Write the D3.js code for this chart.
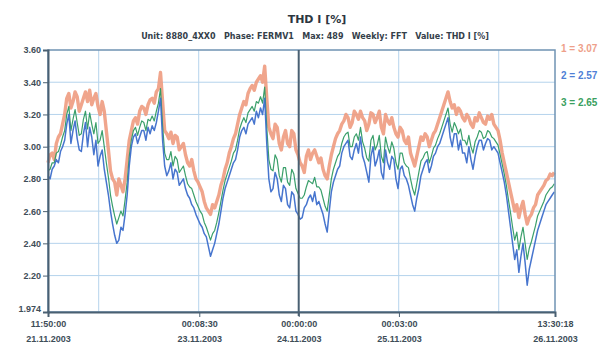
<!DOCTYPE html>
<html>
<head>
<meta charset="utf-8">
<script src="https://cdn.jsdelivr.net/npm/d3@7"></script>
<style>
  html, body { margin: 0; padding: 0; background: #ffffff; }
  svg { display: block; font-family: "DejaVu Sans", Arial, sans-serif; }
</style>
</head>
<body>
<svg id="chart" width="608" height="347"></svg>
<script>
// Half-hourly THD I [%] samples, 21.11.2003 11:50:00 onwards
const startTime = "2003-11-21 11:50:00";
const endTime = "2003-11-26 13:30:18";
const sampleStepMinutes = 30;

// series 1: maximum
const seriesMax = [
  2.90,2.95, 2.96,2.92, 3.02,3.06, 3.08,3.14, 3.20,3.30, 3.33,3.24, 3.28,3.34, 3.31,3.22, 3.26,3.30, 3.34,3.28,
  3.35,3.26, 3.30,3.33, 3.25,3.20, 3.28,3.22, 3.10,2.98, 2.85,2.80, 2.78,2.70, 2.80,2.76, 2.72,2.80, 2.92,3.04,
  3.10,3.16, 3.18,3.14, 3.22,3.25, 3.24,3.20, 3.26,3.29, 3.30,3.27, 3.34,3.36, 3.46,3.28, 3.10,3.08, 3.05,3.09,
  3.02,3.07, 3.06,2.98, 3.00,3.02, 2.95,2.90, 2.88,2.92, 2.85,2.80, 2.78,2.75, 2.72,2.66, 2.62,2.60, 2.58,2.64,
  2.62,2.66, 2.70,2.76, 2.80,2.86, 2.90,2.96, 3.00,3.05, 3.08,3.14, 3.20,3.24, 3.28,3.26, 3.33,3.36, 3.38,3.35,
  3.40,3.42, 3.44,3.40, 3.50,3.30, 3.12,3.08, 3.05,3.14, 3.12,3.02, 2.98,3.06, 3.10,3.02, 3.00,3.10, 3.08,2.98,
  2.95,2.90, 2.88,2.84, 2.94,2.98, 2.92,2.96, 2.98,2.94, 2.90,2.93, 2.86,2.82, 2.80,2.88, 2.95,3.00, 3.05,3.08,
  3.10,3.14, 3.16,3.20, 3.18,3.12, 3.15,3.22, 3.20,3.17, 3.22,3.18, 3.16,3.10, 3.14,3.21, 3.20,3.15, 3.18,3.22,
  3.12,3.08, 3.20,3.16, 3.14,3.18, 3.12,3.08, 3.06,3.12, 3.10,3.04, 3.02,3.06, 2.96,2.92, 2.88,2.94, 3.00,3.06,
  3.04,3.08, 3.06,3.00, 3.04,3.08, 3.10,3.14, 3.18,3.22, 3.26,3.30, 3.34,3.28, 3.24,3.26, 3.20,3.24, 3.22,3.18,
  3.16,3.20, 3.18,3.14, 3.12,3.18, 3.16,3.21, 3.18,3.15, 3.14,3.19, 3.17,3.20, 3.14,3.12, 3.10,3.04, 2.96,2.90,
  2.84,2.78, 2.72,2.66, 2.60,2.64, 2.56,2.62, 2.66,2.58, 2.52,2.56, 2.58,2.62, 2.64,2.70, 2.72,2.74, 2.76,2.79,
  2.80,2.83, 2.82,2.84
];

// series 2: minimum
const seriesMin = [
  2.82,2.80, 2.86,2.88, 2.92,2.90, 2.97,3.00, 3.04,3.14, 3.20,3.02, 3.10,3.16, 3.05,2.98, 2.97,3.08, 3.15,3.00,
  3.12,3.06, 2.95,3.04, 2.88,2.94, 2.98,2.86, 2.78,2.70, 2.60,2.52, 2.45,2.40, 2.42,2.50, 2.48,2.58, 2.70,2.88,
  3.00,3.06, 3.08,3.02, 3.06,3.10, 3.10,3.04, 3.12,3.08, 3.13,3.10, 3.15,3.22, 3.30,3.04, 2.88,2.82, 2.85,2.90,
  2.80,2.86, 2.84,2.76, 2.78,2.80, 2.74,2.70, 2.68,2.64, 2.62,2.58, 2.55,2.52, 2.50,2.46, 2.44,2.38, 2.32,2.36,
  2.40,2.46, 2.52,2.60, 2.68,2.74, 2.78,2.82, 2.86,2.90, 2.92,2.98, 3.06,3.10, 3.12,3.08, 3.14,3.16, 3.18,3.14,
  3.22,3.18, 3.24,3.20, 3.30,3.02, 2.80,2.72, 2.74,2.84, 2.80,2.70, 2.66,2.76, 2.74,2.64, 2.62,2.72, 2.70,2.60,
  2.58,2.55, 2.56,2.62, 2.64,2.68, 2.70,2.66, 2.72,2.64, 2.66,2.62, 2.58,2.52, 2.47,2.60, 2.72,2.78, 2.82,2.86,
  2.88,2.96, 3.00,3.02, 3.04,2.94, 2.92,2.98, 3.02,2.96, 3.06,2.94, 2.90,2.84, 2.78,2.94, 3.00,2.88, 2.92,2.98,
  2.84,2.80, 2.98,2.90, 2.86,2.94, 2.92,2.80, 2.74,2.86, 2.88,2.82, 2.80,2.76, 2.70,2.64, 2.60,2.68, 2.74,2.82,
  2.86,2.90, 2.92,2.84, 2.88,2.94, 2.96,3.00, 3.02,3.06, 3.10,3.14, 3.18,3.06, 3.00,3.08, 3.08,2.98, 3.04,2.96,
  2.96,2.90, 3.00,2.92, 2.86,2.94, 3.00,3.04, 3.04,2.98, 3.02,3.05, 3.04,2.98, 3.00,2.98, 2.96,2.90, 2.84,2.78,
  2.70,2.60, 2.50,2.40, 2.30,2.36, 2.22,2.32, 2.40,2.28, 2.14,2.24, 2.30,2.36, 2.42,2.48, 2.52,2.56, 2.60,2.64,
  2.66,2.68, 2.70,2.72
];

// series 3: average
const seriesAvg = [
  2.85,2.86, 2.90,2.90, 2.96,2.97, 3.01,3.06, 3.10,3.20, 3.25,3.10, 3.17,3.23, 3.15,3.07, 3.08,3.17, 3.22,3.11,
  3.21,3.14, 3.08,3.15, 3.02,3.04, 3.10,3.00, 2.90,2.81, 2.70,2.63, 2.57,2.52, 2.56,2.60, 2.57,2.67, 2.78,2.94,
  3.04,3.10, 3.12,3.07, 3.12,3.16, 3.15,3.10, 3.17,3.16, 3.19,3.16, 3.22,3.27, 3.36,3.13, 2.96,2.92, 2.92,2.97,
  2.88,2.94, 2.92,2.84, 2.86,2.88, 2.82,2.77, 2.75,2.74, 2.70,2.66, 2.63,2.60, 2.58,2.53, 2.50,2.46, 2.42,2.46,
  2.48,2.53, 2.59,2.66, 2.73,2.79, 2.83,2.87, 2.91,2.96, 2.98,3.04, 3.11,3.15, 3.18,3.15, 3.21,3.23, 3.25,3.22,
  3.28,3.27, 3.31,3.27, 3.37,3.12, 2.92,2.86, 2.85,2.95, 2.92,2.82, 2.78,2.87, 2.87,2.78, 2.76,2.86, 2.83,2.74,
  2.71,2.68, 2.68,2.70, 2.75,2.79, 2.78,2.77, 2.81,2.75, 2.75,2.73, 2.68,2.63, 2.60,2.70, 2.80,2.86, 2.90,2.94,
  2.96,3.02, 3.06,3.08, 3.09,3.00, 3.00,3.06, 3.08,3.04, 3.12,3.03, 2.99,2.93, 2.91,3.04, 3.07,2.98, 3.01,3.07,
  2.94,2.90, 3.06,3.00, 2.96,3.03, 2.99,2.90, 2.86,2.96, 2.96,2.90, 2.88,2.87, 2.80,2.74, 2.70,2.77, 2.84,2.91,
  2.93,2.96, 2.97,2.90, 2.94,2.99, 3.01,3.05, 3.08,3.12, 3.16,3.20, 3.24,3.14, 3.09,3.15, 3.12,3.08, 3.11,3.04,
  3.04,3.01, 3.07,3.00, 2.96,3.03, 3.06,3.10, 3.09,3.05, 3.06,3.10, 3.09,3.06, 3.05,3.03, 3.01,2.95, 2.89,2.83,
  2.76,2.67, 2.59,2.50, 2.42,2.47, 2.36,2.44, 2.50,2.40, 2.30,2.37, 2.41,2.46, 2.51,2.57, 2.60,2.63, 2.66,2.70,
  2.72,2.74, 2.75,2.77
];

// axis ticks
const yTicks = [3.60, 3.40, 3.20, 3.00, 2.80, 2.60, 2.40, 2.20, 1.974];
const yTickLabels = ["3.60", "3.40", "3.20", "3.00", "2.80", "2.60", "2.40", "2.20", "1.974"];
const xTickTimes = ["2003-11-21 11:50:00", "2003-11-23 00:08:30", "2003-11-24 00:00:00",
                    "2003-11-25 00:03:00", "2003-11-26 13:30:18"];
const xGridTimes = ["2003-11-22 00:00:00", "2003-11-23 00:00:00",
                    "2003-11-25 00:00:00", "2003-11-26 00:00:00"];
const cursorTime = "2003-11-24 00:00:00";

const legendLabels = ["1 = 3.07", "2 = 2.57", "3 = 2.65"];
const seriesColors = ["#ee9b80", "#3d6ecb", "#2f9a62"];
const legendColors = ["#ee9f8a", "#4f7fd6", "#3aa060"];

const titleText = "THD I [%]";
const subtitleText = "Unit: 8880_4XX0   Phase: FERMV1   Max: 489   Weekly: FFT   Value: THD I [%]";

// ---------------------------------------------------------------
const parse = d3.utcParse("%Y-%m-%d %H:%M:%S");
const t0 = parse(startTime), t1 = parse(endTime);

const margin = { left: 48, right: 555, top: 50, bottom: 312 };
const x = d3.scaleUtc().domain([t0, t1]).range([margin.left, margin.right]);
const y = d3.scaleLinear().domain([1.974, 3.60]).range([margin.bottom, margin.top]);

const svg = d3.select("#chart");
const axisColor = "#4a6072";
const frameColor = "#6f93b3";
const gridColor = "#b5d3ec";

// grid
const grid = svg.append("g");
grid.selectAll("line.h").data(yTicks.slice(1, -1)).join("line")
  .attr("x1", margin.left).attr("x2", margin.right)
  .attr("y1", d => y(d)).attr("y2", d => y(d))
  .attr("stroke", gridColor).attr("stroke-width", 1);
grid.selectAll("line.v").data(xGridTimes.map(parse)).join("line")
  .attr("x1", d => x(d)).attr("x2", d => x(d))
  .attr("y1", margin.top).attr("y2", margin.bottom)
  .attr("stroke", gridColor).attr("stroke-width", 1);

// series
const times = seriesMax.map((_, i) => d3.utcMinute.offset(t0, i * sampleStepMinutes));
const line = d3.line().x((d, i) => x(times[i])).y(d => y(d));
const drawOrder = [
  { data: seriesMax, color: seriesColors[0], w: 3.4, op: 0.9 },
  { data: seriesAvg, color: seriesColors[2], w: 1.2, op: 0.95 },
  { data: seriesMin, color: seriesColors[1], w: 1.5, op: 0.95 }
];
svg.append("g").selectAll("path").data(drawOrder).join("path")
  .attr("d", d => line(d.data))
  .attr("fill", "none")
  .attr("stroke", d => d.color)
  .attr("stroke-width", d => d.w)
  .attr("stroke-opacity", d => d.op)
  .attr("stroke-linejoin", "round");

// frame
svg.append("rect")
  .attr("x", margin.left).attr("y", margin.top)
  .attr("width", margin.right - margin.left).attr("height", margin.bottom - margin.top)
  .attr("fill", "none").attr("stroke", frameColor).attr("stroke-width", 1.5);

// cursor line
svg.append("line")
  .attr("x1", x(parse(cursorTime))).attr("x2", x(parse(cursorTime)))
  .attr("y1", margin.top).attr("y2", margin.bottom + 4)
  .attr("stroke", axisColor).attr("stroke-width", 2);

// y axis
const yAxis = d3.axisLeft(y).tickValues(yTicks)
  .tickFormat((d, i) => yTickLabels[i]).tickSize(5).tickPadding(2);
const gy = svg.append("g").attr("transform", `translate(${margin.left},0)`).call(yAxis);
gy.select(".domain").attr("stroke", axisColor).attr("stroke-width", 2);
gy.selectAll(".tick line").attr("stroke", axisColor);
gy.selectAll(".tick text").attr("fill", "#3e4d58")
  .style("font-size", "9px").style("font-weight", "bold");
gy.selectAll(".tick text").filter((d, i) => i === yTicks.length - 1).attr("dy", "-0.1em");

// x axis
const fmtTime = d3.utcFormat("%H:%M:%S");
const fmtDate = d3.utcFormat("%d.%m.%Y");
const xAxis = d3.axisBottom(x).tickValues(xTickTimes.map(parse)).tickSize(5).tickFormat("");
const gx = svg.append("g").attr("transform", `translate(0,${margin.bottom})`).call(xAxis);
gx.select(".domain").attr("stroke", axisColor).attr("stroke-width", 2);
gx.selectAll(".tick line").attr("stroke", axisColor);
const xl = gx.selectAll(".tick").append("text")
  .attr("fill", "#3e4d58").attr("text-anchor", "middle")
  .style("font-size", "9px").style("font-weight", "bold");
xl.append("tspan").attr("x", 0).attr("y", 15).text(d => fmtTime(d));
xl.append("tspan").attr("x", 0).attr("y", 30).text(d => fmtDate(d));

// title
svg.append("text").attr("x", 317).attr("y", 23).attr("text-anchor", "middle")
  .attr("fill", "#2c3640").style("font-size", "11px").style("font-weight", "bold")
  .text(titleText);
svg.append("text").attr("x", 315).attr("y", 39).attr("text-anchor", "middle")
  .attr("fill", "#34404a").style("font-size", "8px").style("font-weight", "bold")
  .style("white-space", "pre")
  .text(subtitleText);

// legend
svg.append("g").selectAll("text").data(legendLabels).join("text")
  .attr("x", 561).attr("y", (d, i) => 52 + i * 27)
  .attr("fill", (d, i) => legendColors[i])
  .style("font-family", "'Liberation Sans', Arial, sans-serif")
  .style("font-size", "10px").style("font-weight", "bold")
  .text(d => d);
</script>
</body>
</html>
